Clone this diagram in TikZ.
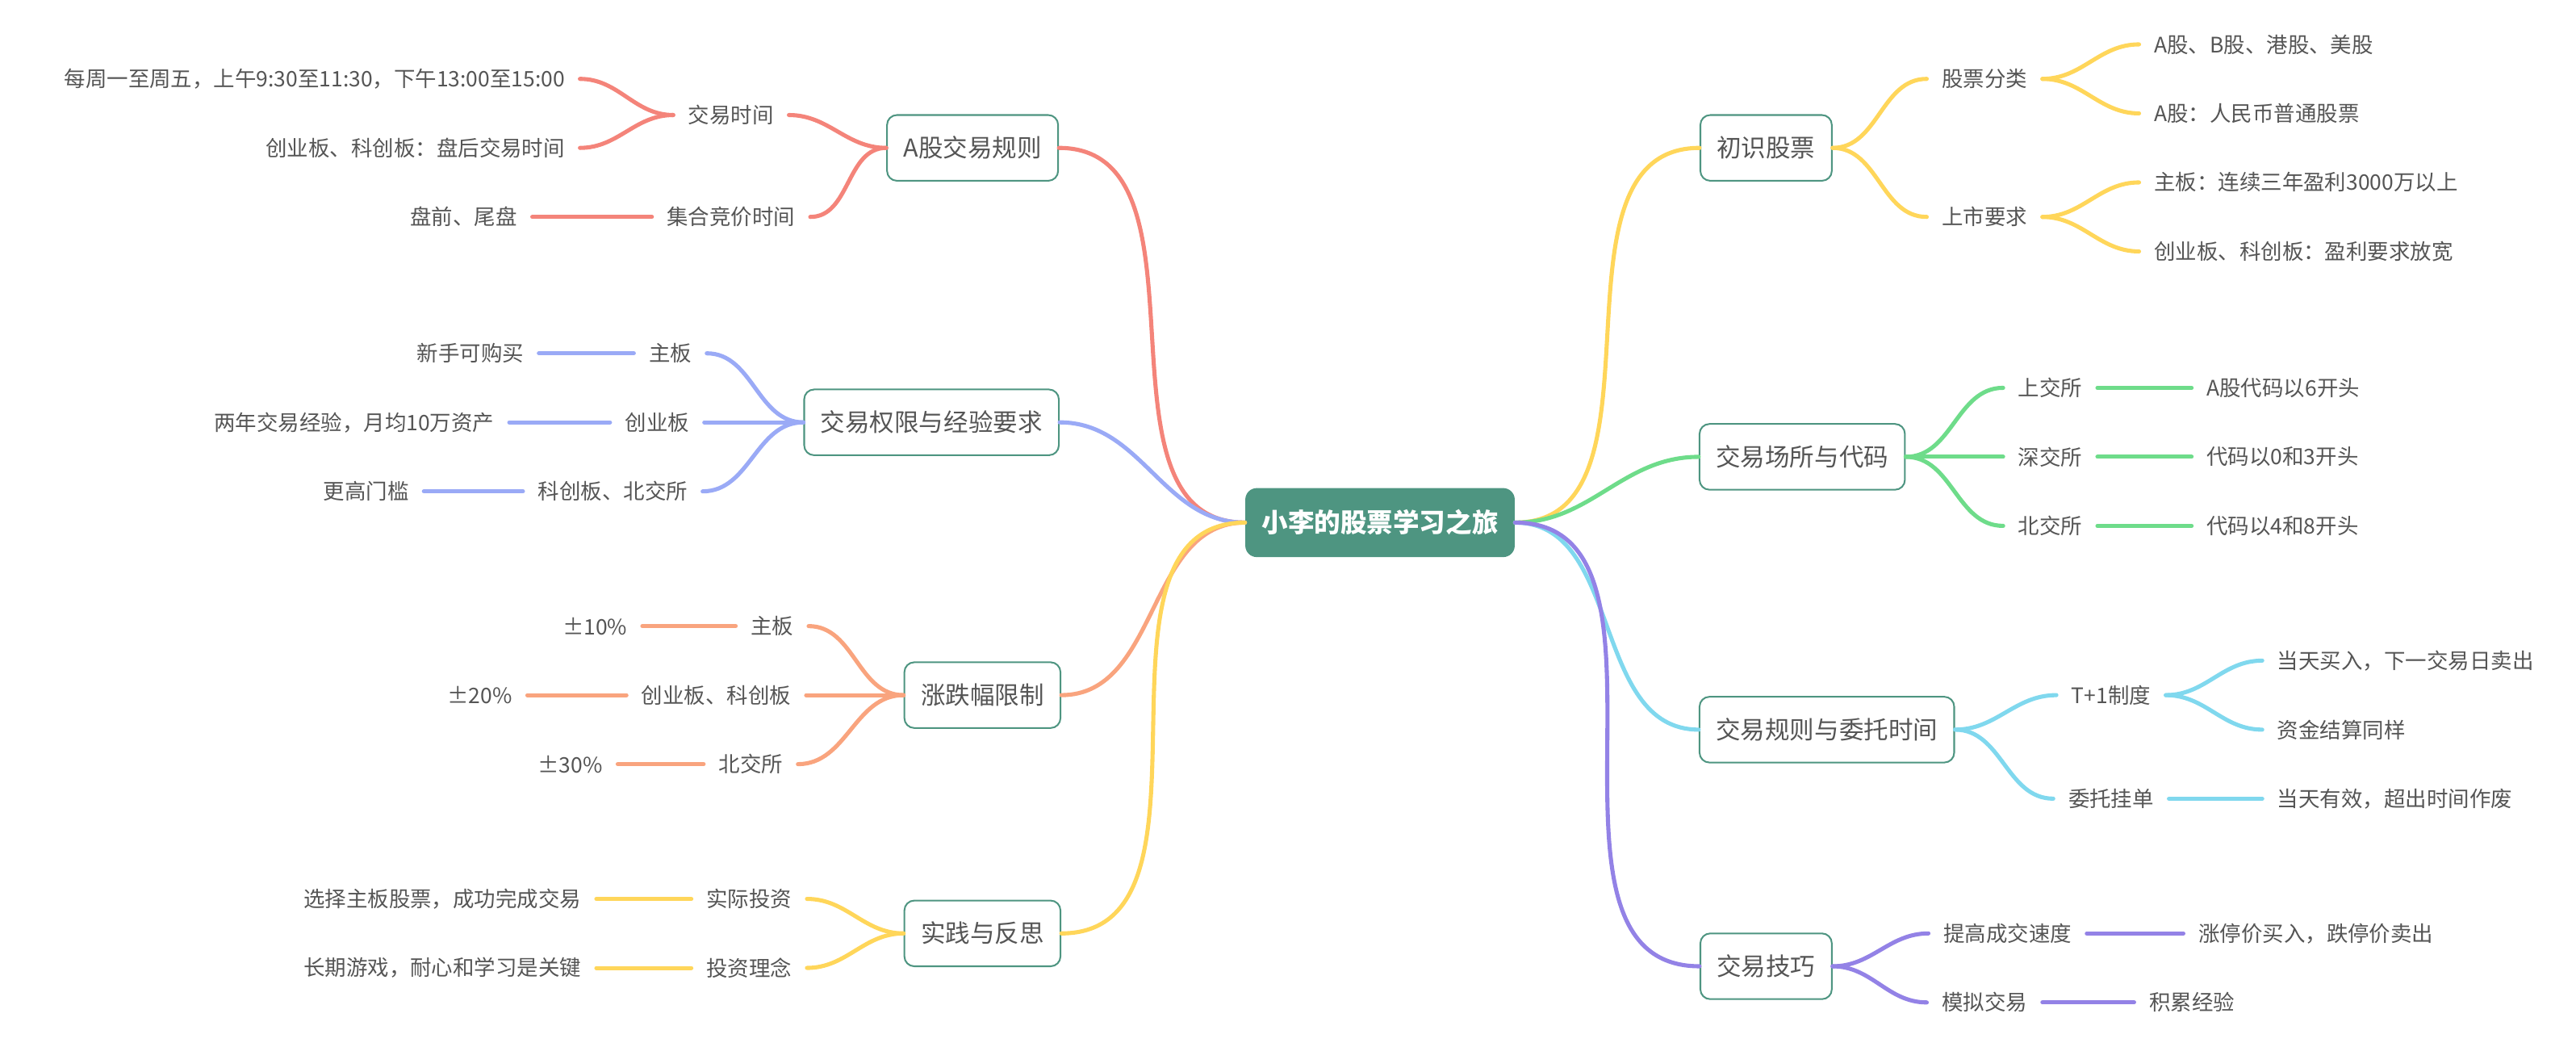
\documentclass[tikz,border=0pt]{standalone}
\usepackage{fontspec}
\setmainfont{Noto Sans CJK SC}
\usetikzlibrary{positioning}
\definecolor{cRed}{HTML}{F4847A}
\definecolor{cBlue}{HTML}{9AAAF6}
\definecolor{cOrange}{HTML}{F9A47E}
\definecolor{cYellow}{HTML}{FFD65A}
\definecolor{cGreen}{HTML}{6EDC8A}
\definecolor{cCyan}{HTML}{80D8EE}
\definecolor{cPurple}{HTML}{9382E6}
\definecolor{cHub}{HTML}{4E9581}
\definecolor{cText}{HTML}{555555}
\tikzset{hub/.style={rectangle,rounded corners=7pt,fill=cHub,text=white,font=\fontsize{16}{18}\selectfont\bfseries,minimum height=42pt,inner xsep=10pt},
branch/.style={rectangle,rounded corners=6pt,draw=cHub,fill=white,line width=1pt,text=cText,font=\fontsize{15}{17}\selectfont,minimum height=40pt,inner xsep=10pt},
sub/.style={text=cText,font=\fontsize{13}{15}\selectfont,inner xsep=9pt},
lleaf/.style={sub,anchor=east},
rleaf/.style={sub,anchor=west},
link/.style={line width=2.5pt,line cap=round}}
\begin{document}
\begin{tikzpicture}[x=1pt,y=-1pt]
\useasboundingbox (0,0) rectangle (1568,637);

% the hub and the main branches
\node[hub] (hub) at (840,318) {小李的股票学习之旅};
\foreach \pos / \name / \txt in {{(592,90)/rules/A股交易规则},
{(567,257)/rights/交易权限与经验要求},
{(598,423)/limits/涨跌幅限制},
{(598,568)/practice/实践与反思},
{(1075,90)/intro/初识股票},
{(1097,278)/venues/交易场所与代码},
{(1112,444)/orders/交易规则与委托时间},
{(1075,588)/skills/交易技巧}}
\node[branch] (\name) at \pos {\txt};

% second level
\foreach \pos / \name / \txt in {{(445,70)/hours/交易时间},
{(445,132)/auction/集合竞价时间},
{(408,215)/rmain/主板},
{(400,257)/rgem/创业板},
{(373,299)/rstar/科创板、北交所},
{(470,381)/lmain/主板},
{(436,423)/lgem/创业板、科创板},
{(457,465)/lbse/北交所},
{(456,547)/invest/实际投资},
{(456,589)/idea/投资理念},
{(1208,48)/kinds/股票分类},
{(1208,132)/listing/上市要求},
{(1248,236)/sse/上交所},
{(1248,278)/szse/深交所},
{(1248,320)/bse/北交所},
{(1285,423)/tplus/T+1制度},
{(1285,486)/entrust/委托挂单},
{(1222,568)/speed/提高成交速度},
{(1208,610)/sim/模拟交易}}
\node[sub] (\name) at \pos {\txt};

% leaves on the left
\foreach \pos / \name / \txt in {{(353,48)/week/每周一至周五，上午9:30至11:30，下午13:00至15:00},
{(353,90)/after/创业板、科创板：盘后交易时间},
{(324,132)/pre/盘前、尾盘},
{(328,215)/novice/新手可购买},
{(310,257)/twoyr/两年交易经验，月均10万资产},
{(258,299)/higher/更高门槛},
{(391,381)/ten/±10\%},
{(321,423)/twenty/±20\%},
{(376,465)/thirty/±30\%},
{(363,547)/done/选择主板股票，成功完成交易},
{(363,589)/patience/长期游戏，耐心和学习是关键}}
\node[lleaf] (\name) at \pos {\txt};

% leaves on the right
\foreach \pos / \name / \txt in {{(1302,27)/abhk/A股、B股、港股、美股},
{(1302,69)/ashare/A股：人民币普通股票},
{(1302,111)/profit/主板：连续三年盈利3000万以上},
{(1302,153)/looser/创业板、科创板：盈利要求放宽},
{(1334,236)/six/A股代码以6开头},
{(1334,278)/zerothree/代码以0和3开头},
{(1334,320)/foureight/代码以4和8开头},
{(1377,402)/nextday/当天买入，下一交易日卖出},
{(1377,444)/funds/资金结算同样},
{(1377,486)/expire/当天有效，超出时间作废},
{(1329,568)/limitup/涨停价买入，跌停价卖出},
{(1299,610)/gain/积累经验}}
\node[rleaf] (\name) at \pos {\txt};

% connectors, left side
\foreach \source / \dest / \col in {hub/rules/cRed,hub/rights/cBlue,hub/limits/cOrange,hub/practice/cYellow,
rules/hours/cRed,rules/auction/cRed,hours/week/cRed,hours/after/cRed,auction/pre/cRed,
rights/rmain/cBlue,rights/rgem/cBlue,rights/rstar/cBlue,rmain/novice/cBlue,rgem/twoyr/cBlue,rstar/higher/cBlue,
limits/lmain/cOrange,limits/lgem/cOrange,limits/lbse/cOrange,lmain/ten/cOrange,lgem/twenty/cOrange,lbse/thirty/cOrange,
practice/invest/cYellow,practice/idea/cYellow,invest/done/cYellow,idea/patience/cYellow}
\draw[link,\col] (\source.west) to[out=180,in=0] (\dest.east);

% connectors, right side
\foreach \source / \dest / \col in {hub/intro/cYellow,hub/venues/cGreen,hub/orders/cCyan,hub/skills/cPurple,
intro/kinds/cYellow,intro/listing/cYellow,kinds/abhk/cYellow,kinds/ashare/cYellow,listing/profit/cYellow,listing/looser/cYellow,
venues/sse/cGreen,venues/szse/cGreen,venues/bse/cGreen,sse/six/cGreen,szse/zerothree/cGreen,bse/foureight/cGreen,
orders/tplus/cCyan,orders/entrust/cCyan,tplus/nextday/cCyan,tplus/funds/cCyan,entrust/expire/cCyan,
skills/speed/cPurple,skills/sim/cPurple,speed/limitup/cPurple,sim/gain/cPurple}
\draw[link,\col] (\source.east) to[out=0,in=180] (\dest.west);

\end{tikzpicture}
\end{document}
